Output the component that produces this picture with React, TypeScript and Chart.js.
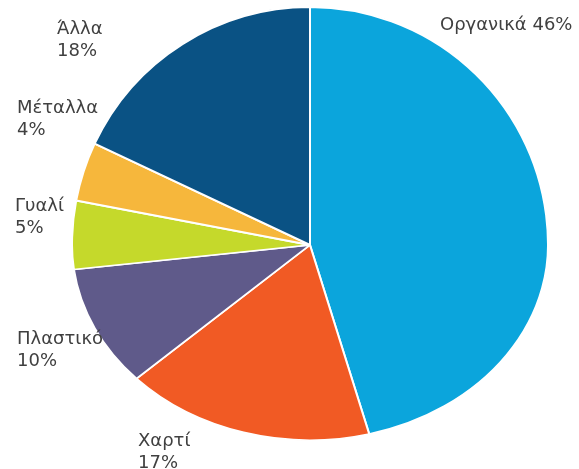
import React, { useEffect, useRef } from "react";
import { Chart, registerables } from "chart.js";

Chart.register(...registerables);

const categories = ["Οργανικά", "Χαρτί", "Πλαστικό", "Γυαλί", "Μέταλλα", "Άλλα"];
const values = [46, 17, 10, 5, 4, 18];
const colors = ["#0BA5DC", "#F15A24", "#5F5A8A", "#C5D92B", "#F6B73C", "#0A5284"];

// label anchor offsets relative to the pie centre (left edge, middle of first line)
const labelOffsets = [
  { dx: 130, dy: -220, oneLine: true },
  { dx: -172, dy: 196, oneLine: false },
  { dx: -293, dy: 94, oneLine: false },
  { dx: -295, dy: -39, oneLine: false },
  { dx: -293, dy: -137, oneLine: false },
  { dx: -253, dy: -216, oneLine: false },
];

const BOTTOM_SQUASH = 0.82;
const FONT = "18px 'DejaVu Sans', sans-serif";
const LINE_GAP = 22;

const squashPlugin = {
  id: "squashBottom",
  beforeDatasetsDraw(chart: any) {
    const meta = chart.getDatasetMeta(0);
    const a = meta.data[0];
    if (!a) return;
    const ctx = chart.ctx;
    ctx.save();
    ctx.beginPath();
    ctx.rect(0, 0, chart.width, a.y);
    ctx.clip();
  },
  afterDatasetsDraw(chart: any) {
    const meta = chart.getDatasetMeta(0);
    const a = meta.data[0];
    if (!a) return;
    const ctx = chart.ctx;
    ctx.restore();
    ctx.save();
    ctx.beginPath();
    ctx.rect(0, a.y, chart.width, chart.height - a.y);
    ctx.clip();
    ctx.translate(a.x, a.y);
    ctx.scale(1, BOTTOM_SQUASH);
    ctx.translate(-a.x, -a.y);
    meta.controller.draw();
    ctx.restore();
  },
};

const labelPlugin = {
  id: "sliceLabels",
  afterDraw(chart: any) {
    const meta = chart.getDatasetMeta(0);
    const a = meta.data[0];
    if (!a) return;
    const ctx = chart.ctx;
    ctx.save();
    ctx.font = FONT;
    ctx.fillStyle = "#404040";
    ctx.textAlign = "left";
    ctx.textBaseline = "middle";
    categories.forEach((c, i) => {
      const o = labelOffsets[i];
      const x = a.x + o.dx;
      const y = a.y + o.dy;
      const pct = values[i] + "%";
      if (o.oneLine) {
        ctx.fillText(c + " " + pct, x, y);
      } else {
        ctx.fillText(c, x, y);
        ctx.fillText(pct, x, y + LINE_GAP);
      }
    });
    ctx.restore();
  },
};

export default function App() {
  const ref = useRef<HTMLCanvasElement>(null);
  useEffect(() => {
    if (!ref.current) return;
    const chart = new Chart(ref.current, {
      type: "pie",
      data: {
        labels: categories,
        datasets: [
          {
            data: values,
            backgroundColor: colors,
            borderColor: "#ffffff",
            borderWidth: 2,
            clip: false as any,
          },
        ],
      },
      options: {
        responsive: false,
        animation: false,
        radius: 238,
        layout: { padding: { left: 72, top: 21, right: 31, bottom: 0 } },
        plugins: {
          legend: { display: false },
          tooltip: { enabled: false },
        },
      } as any,
      plugins: [squashPlugin, labelPlugin],
    });
    return () => chart.destroy();
  }, []);
  return (
    <div style={{ position: "fixed", left: 0, top: 0, width: 579, height: 469, background: "#fff" }}>
      <canvas ref={ref} width={579} height={469} />
    </div>
  );
}
